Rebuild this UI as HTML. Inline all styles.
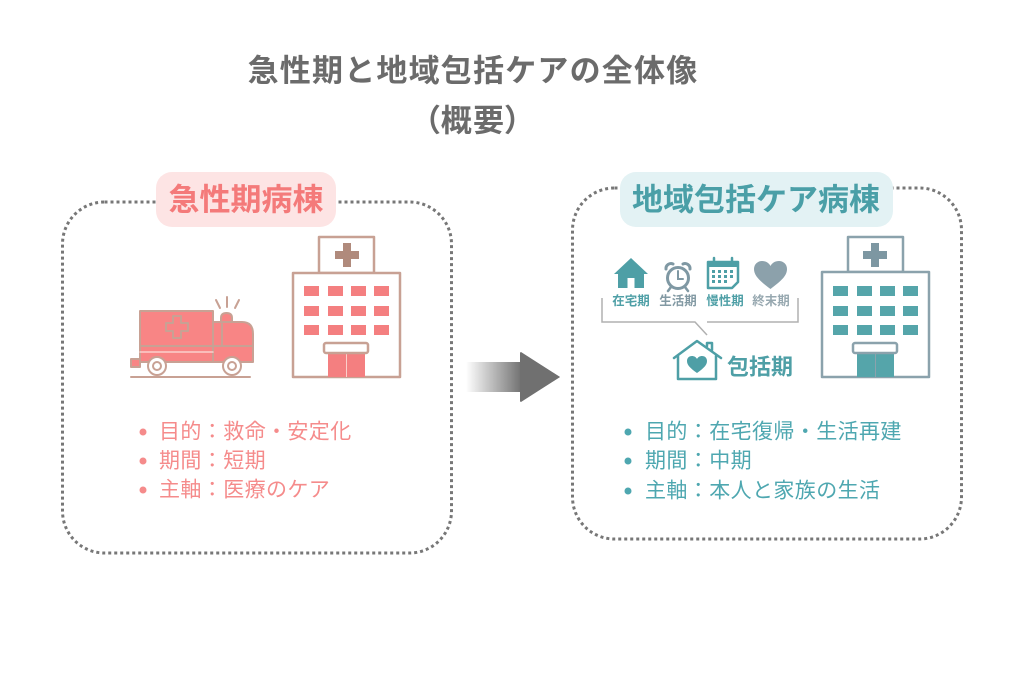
<!DOCTYPE html>
<html><head><meta charset="utf-8">
<style>
html,body{margin:0;padding:0;background:#fff;}
svg{display:block;}
text{font-family:"Liberation Sans","Noto Sans CJK JP",sans-serif;}
</style></head>
<body>
<svg width="1024" height="683" viewBox="0 0 1024 683" xmlns="http://www.w3.org/2000/svg">
<defs>
<linearGradient id="ag" x1="466" x2="522" y1="0" y2="0" gradientUnits="userSpaceOnUse">
<stop offset="0" stop-color="#707070" stop-opacity="0"/>
<stop offset="1" stop-color="#707070" stop-opacity="1"/>
</linearGradient>
</defs>

<!-- Title -->
<text x="473" y="71" text-anchor="middle" dominant-baseline="central" font-size="31" font-weight="700" fill="#6b6b6b" letter-spacing="1.2">急性期と地域包括ケアの全体像</text>
<text x="473" y="121" text-anchor="middle" dominant-baseline="central" font-size="31" font-weight="700" fill="#6b6b6b" letter-spacing="1.2" style="font-feature-settings:'palt'">（概要）</text>

<!-- Dotted boxes -->
<rect x="62.5" y="202" width="389" height="351" rx="42" fill="none" stroke="#777" stroke-width="3" stroke-dasharray="3 3"/>
<rect x="572.5" y="188" width="389" height="351" rx="42" fill="none" stroke="#777" stroke-width="3" stroke-dasharray="3 3"/>

<!-- Pills -->
<rect x="156" y="172" width="180" height="55" rx="16" fill="#fde4e4"/>
<text x="246" y="200" text-anchor="middle" dominant-baseline="central" font-size="31" font-weight="700" fill="#f47a7a">急性期病棟</text>
<rect x="620" y="172" width="273" height="55" rx="16" fill="#e3f2f4"/>
<text x="756" y="200" text-anchor="middle" dominant-baseline="central" font-size="31" font-weight="700" fill="#4a9fa7">地域包括ケア病棟</text>

<!-- Ambulance -->
<g stroke="#c8a194" stroke-width="2" stroke-linejoin="round" stroke-linecap="round">
  <line x1="216" y1="300" x2="220" y2="308"/>
  <line x1="227" y1="297" x2="227" y2="307"/>
  <line x1="239" y1="300" x2="235" y2="308"/>
  <path d="M221,322 V318 Q221,313 226.5,313 Q232,313 232,318 V322 Z" fill="#f88585"/>
  <rect x="140" y="311" width="73" height="51" fill="#f88585"/>
  <path d="M213,322 H242 Q253,322 253,334 V362 H213 Z" fill="#f88585"/>
  <line x1="222" y1="324" x2="222" y2="346"/>
  <line x1="140" y1="346" x2="253" y2="346"/>
  <line x1="140" y1="352" x2="213" y2="352" stroke="#fbd0cb" stroke-width="1.5"/>
  <rect x="131" y="359" width="9" height="8" fill="#f88585"/>
  <line x1="131" y1="377" x2="250" y2="377"/>
  <circle cx="157" cy="366" r="9" fill="#fff"/>
  <circle cx="157" cy="366" r="4" fill="#fff"/>
  <circle cx="232" cy="366" r="9" fill="#fff"/>
  <circle cx="232" cy="366" r="4" fill="#fff"/>
  <path d="M173,316 h8 v7 h7 v8 h-7 v7 h-8 v-7 h-7 v-8 h7 Z" fill="#f88585"/>
</g>

<!-- Left hospital -->
<g stroke="#c8a194" stroke-width="2.5" stroke-linejoin="round">
  <rect x="319" y="237" width="55" height="36" fill="#fff"/>
  <rect x="293" y="273" width="107" height="104" fill="#fff"/>
</g>
<path d="M343,243 h8 v8 h8 v8 h-8 v8 h-8 v-8 h-8 v-8 h8 Z" fill="#b08a7c"/>
<g fill="#f47f80">
  <rect x="304" y="286" width="15" height="10"/><rect x="328" y="286" width="15" height="10"/><rect x="351" y="286" width="15" height="10"/><rect x="374" y="286" width="15" height="10"/>
  <rect x="304" y="306" width="15" height="10"/><rect x="328" y="306" width="15" height="10"/><rect x="351" y="306" width="15" height="10"/><rect x="374" y="306" width="15" height="10"/>
  <rect x="304" y="325" width="15" height="10"/><rect x="328" y="325" width="15" height="10"/><rect x="351" y="325" width="15" height="10"/><rect x="374" y="325" width="15" height="10"/>
  <rect x="328" y="353" width="37" height="24"/>
</g>
<line x1="346.5" y1="353" x2="346.5" y2="377" stroke="#fbd0cb" stroke-width="1"/>
<rect x="324" y="343" width="44" height="10" rx="2" fill="#fff" stroke="#c8a194" stroke-width="2.5"/>

<!-- Arrow -->
<polygon points="466,362 521,362 521,352 560,377 521,402 521,392 466,392" fill="url(#ag)"/>
<polygon points="520,352 560,377 520,402" fill="#707070"/>

<!-- Right hospital -->
<g stroke="#8ba2ac" stroke-width="2.5" stroke-linejoin="round">
  <rect x="848" y="237" width="55" height="35" fill="#fff"/>
  <rect x="822" y="272" width="107" height="105" fill="#fff"/>
</g>
<path d="M871,243 h8 v8 h8 v8 h-8 v8 h-8 v-8 h-8 v-8 h8 Z" fill="#7d97a2"/>
<g fill="#55a5aa">
  <rect x="833" y="286" width="15" height="10"/><rect x="857" y="286" width="15" height="10"/><rect x="880" y="286" width="15" height="10"/><rect x="903" y="286" width="15" height="10"/>
  <rect x="833" y="306" width="15" height="10"/><rect x="857" y="306" width="15" height="10"/><rect x="880" y="306" width="15" height="10"/><rect x="903" y="306" width="15" height="10"/>
  <rect x="833" y="325" width="15" height="10"/><rect x="857" y="325" width="15" height="10"/><rect x="880" y="325" width="15" height="10"/><rect x="903" y="325" width="15" height="10"/>
  <rect x="857" y="353" width="37" height="24"/>
</g>
<line x1="875.5" y1="353" x2="875.5" y2="377" stroke="#8ba2ac" stroke-width="1"/>
<rect x="853" y="343" width="44" height="10" rx="2" fill="#fff" stroke="#8ba2ac" stroke-width="2.5"/>

<!-- Small icons -->
<g fill="#4e9fa6">
  <polygon points="631,258 614,274 618,274 618,288 644,288 644,274 648,274"/>
</g>
<rect x="627.5" y="278" width="7" height="10" fill="#fff"/>
<g stroke="#7f98a3" fill="none" stroke-linecap="round">
  <circle cx="678" cy="278" r="10.5" stroke-width="3"/>
  <path d="M678,271 V279 H683" stroke-width="2"/>
  <path d="M666,269 a5,5 0 0 1 7,-5" stroke-width="3"/>
  <path d="M690,269 a5,5 0 0 0 -7,-5" stroke-width="3"/>
  <line x1="671" y1="287" x2="668" y2="291" stroke-width="2.5"/>
  <line x1="685" y1="287" x2="688" y2="291" stroke-width="2.5"/>
</g>
<g>
  <path d="M708,262 H738 V282 L732,288 H708 Z" fill="#fff" stroke="#4e9fa6" stroke-width="2.5" stroke-linejoin="round"/>
  <rect x="708" y="262" width="30" height="5" fill="#4e9fa6"/>
  <line x1="714" y1="258" x2="714" y2="264" stroke="#4e9fa6" stroke-width="2.5" stroke-linecap="round"/>
  <line x1="732" y1="258" x2="732" y2="264" stroke="#4e9fa6" stroke-width="2.5" stroke-linecap="round"/>
  <g fill="#4e9fa6">
    <rect x="712" y="270" width="3" height="3"/><rect x="718" y="270" width="3" height="3"/><rect x="724" y="270" width="3" height="3"/><rect x="730" y="270" width="3" height="3"/>
    <rect x="712" y="275" width="3" height="3"/><rect x="718" y="275" width="3" height="3"/><rect x="724" y="275" width="3" height="3"/><rect x="730" y="275" width="3" height="3"/>
    <rect x="712" y="280" width="3" height="3"/><rect x="718" y="280" width="3" height="3"/><rect x="724" y="280" width="3" height="3"/>
  </g>
</g>
<path d="M770.5,289 C760,281 754,276 754,269 C754,264 758,261 762,261 C766,261 769,263 770.5,266 C772,263 775,261 779,261 C783,261 787,264 787,269 C787,276 781,281 770.5,289 Z" fill="#8ca1ab"/>

<g font-size="12.5" font-weight="700" text-anchor="middle" dominant-baseline="central">
  <text x="631" y="301" fill="#4e9fa6">在宅期</text>
  <text x="678" y="301" fill="#8299a3">生活期</text>
  <text x="725" y="301" fill="#4e9fa6">慢性期</text>
  <text x="771" y="301" fill="#97a8b0">終末期</text>
</g>

<g stroke="#b0b0b0" stroke-width="1.5" fill="none">
  <polyline points="602,298 602,322 695,322 707,335"/>
  <polyline points="707,322 798,322 798,298"/>
</g>

<g stroke="#4e9fa6" stroke-width="2.5" fill="none" stroke-linejoin="round" stroke-linecap="round">
  <polyline points="674,358 697,341 721,358"/>
  <polyline points="678,356 678,379 716,379 716,356"/>
  <polyline points="707,346 707,343 712,343 712,350"/>
</g>
<path d="M697,373 C690,368 687,365 687,361 C687,358 689,356 692,356 C694,356 696,357 697,359 C698,357 700,356 702,356 C705,356 707,358 707,361 C707,365 704,368 697,373 Z" fill="#4e9fa6"/>
<text x="727" y="367" dominant-baseline="central" font-size="22" font-weight="700" fill="#4e9fa6">包括期</text>

<g fill="#f58b8b">
  <circle cx="143" cy="432" r="3.5"/>
  <circle cx="143" cy="461" r="3.5"/>
  <circle cx="143" cy="490" r="3.5"/>
</g>
<g font-size="21" fill="#f58b8b" dominant-baseline="central" letter-spacing="0.4">
  <text x="159" y="432">目的：救命・安定化</text>
  <text x="159" y="461">期間：短期</text>
  <text x="159" y="490">主軸：医療のケア</text>
</g>

<g fill="#4ea7b0">
  <circle cx="628" cy="432" r="3.5"/>
  <circle cx="628" cy="461" r="3.5"/>
  <circle cx="628" cy="491" r="3.5"/>
</g>
<g font-size="21" fill="#4ea7b0" dominant-baseline="central" letter-spacing="0.4">
  <text x="645" y="432">目的：在宅復帰・生活再建</text>
  <text x="645" y="461">期間：中期</text>
  <text x="645" y="491">主軸：本人と家族の生活</text>
</g>
</svg>
</body></html>
